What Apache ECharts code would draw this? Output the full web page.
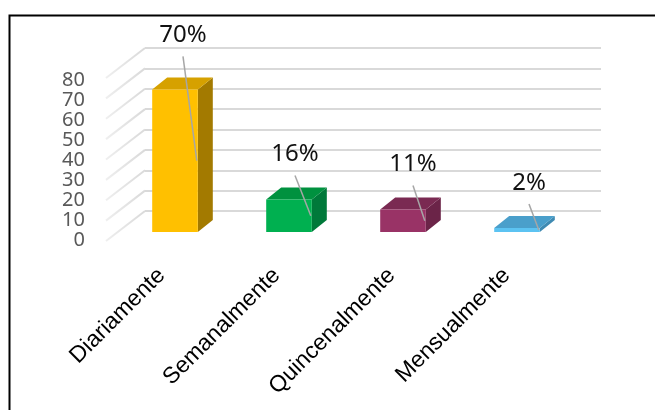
<!DOCTYPE html>
<html>
<head>
<meta charset="utf-8">
<script src="https://cdn.jsdelivr.net/npm/echarts@6/dist/echarts.min.js"></script>
<style>
  html, body { margin: 0; padding: 0; background: #ffffff; }
  #chart { width: 655px; height: 410px; }
</style>
</head>
<body>
<div id="chart"></div>
<script>
// Frequency categories and their shares (%)
const categories = ['Diariamente', 'Semanalmente', 'Quincenalmente', 'Mensualmente'];
const values = [70, 16, 11, 2];
const valueTicks = [0, 10, 20, 30, 40, 50, 60, 70, 80];

// Face colours for each column: front, top, side
const frontColors = ['#FFC000', '#00B050', '#993366', '#5CC3F2'];
const topColors   = ['#D6A100', '#00913F', '#7A2A52', '#4A9FCB'];
const sideColors  = ['#A37A00', '#00793A', '#6B2448', '#3F8AB2'];

// Label placement relative to the top of each column
const labelDx   = [8, 6, 10, 12];
const labelLift = [54, 45, 45, 45];

// Pseudo-3D projection: front face shift from the back wall, and column depth
const FRONT_DX = -27, FRONT_DY = 21;
const DEPTH_DX = 15, DEPTH_DY = -12;
const SIDE_DX = -39, SIDE_DY = 30;

const chart = echarts.init(document.getElementById('chart'), null, { renderer: 'canvas' });

function renderColumn(params, api) {
  const i = params.dataIndex;
  const cat = api.value(0), v = api.value(1);
  const top = api.coord([cat, v]);
  const base = api.coord([cat, 0]);
  const w = api.size([1, 0])[0] * 0.40;
  const fx = top[0] + FRONT_DX;
  const x0 = fx - w / 2, x1 = fx + w / 2;
  const yT = top[1] + FRONT_DY, yB = base[1] + FRONT_DY;
  const lx = fx + labelDx[i], ly = yT - labelLift[i];
  return {
    type: 'group',
    children: [
      { type: 'polygon', shape: { points: [[x1, yT], [x1 + DEPTH_DX, yT + DEPTH_DY], [x1 + DEPTH_DX, yB + DEPTH_DY], [x1, yB]] },
        style: { fill: sideColors[i] } },
      { type: 'polygon', shape: { points: [[x0, yT], [x0 + DEPTH_DX, yT + DEPTH_DY], [x1 + DEPTH_DX, yT + DEPTH_DY], [x1, yT]] },
        style: { fill: topColors[i] } },
      { type: 'rect', shape: { x: x0, y: yT, width: w, height: yB - yT },
        style: { fill: frontColors[i] } },
      { type: 'line', shape: { x1: lx, y1: ly + 21, x2: x1 - 1, y2: (yT + yB) / 2 },
        style: { stroke: '#A6A6A6', lineWidth: 1.5 } },
      { type: 'text', x: lx, y: ly,
        style: { text: v + '%', fill: '#111111', font: '24px "Noto Sans", sans-serif', align: 'center', verticalAlign: 'middle' } }
    ]
  };
}

function renderSideLine(params, api) {
  const p = api.coord([0, api.value(1)]);
  const x = params.coordSys.x;
  return {
    type: 'line',
    shape: { x1: x, y1: p[1], x2: x + SIDE_DX, y2: p[1] + SIDE_DY },
    style: {
      lineWidth: 2,
      stroke: new echarts.graphic.LinearGradient(1, 0, 0, 0, [
        { offset: 0, color: '#D9D9D9' }, { offset: 1, color: '#EFEFEF' }
      ])
    }
  };
}

const option = {
  animation: false,
  backgroundColor: '#ffffff',
  grid: [
    { left: 145, top: 48, width: 456, height: 163 },   // back wall
    { left: 90, top: 80, width: 10, height: 160 },     // front value scale
    { left: 104, top: 250, width: 460, height: 12 }    // category labels
  ],
  xAxis: [
    { type: 'category', gridIndex: 0, data: categories, show: false },
    { type: 'value', gridIndex: 1, show: false },
    { type: 'category', gridIndex: 2, data: categories,
      axisLine: { show: false }, axisTick: { show: false },
      axisLabel: { rotate: 45, margin: 10, color: '#000000', fontSize: 23,
        fontFamily: '"Liberation Sans", Arial, sans-serif', interval: 0 } }
  ],
  yAxis: [
    { type: 'value', gridIndex: 0, min: 0, max: 80, interval: 10,
      axisLine: { show: false }, axisTick: { show: false }, axisLabel: { show: false },
      splitLine: { show: true, lineStyle: { color: '#D9D9D9', width: 2 } } },
    { type: 'value', gridIndex: 1, min: 0, max: 80, interval: 10,
      axisLine: { show: false }, axisTick: { show: false }, splitLine: { show: false },
      axisLabel: { color: '#595959', fontSize: 20, margin: 5, fontFamily: '"Noto Sans", sans-serif' } },
    { type: 'value', gridIndex: 2, show: false }
  ],
  series: [
    { type: 'custom', xAxisIndex: 0, yAxisIndex: 0, z: 1, silent: true,
      renderItem: renderSideLine, data: valueTicks.map(t => [0, t]) },
    { type: 'custom', xAxisIndex: 0, yAxisIndex: 0, z: 5,
      renderItem: renderColumn, data: values.map((v, i) => [i, v]) }
  ],
  graphic: [
    { type: 'rect', left: 7, top: 13, z: 100, silent: true,
      shape: { x: 0, y: 0, width: 700, height: 500 },
      style: { fill: 'none', stroke: '#000000', lineWidth: 2 } }
  ]
};

chart.setOption(option);
</script>
</body>
</html>
